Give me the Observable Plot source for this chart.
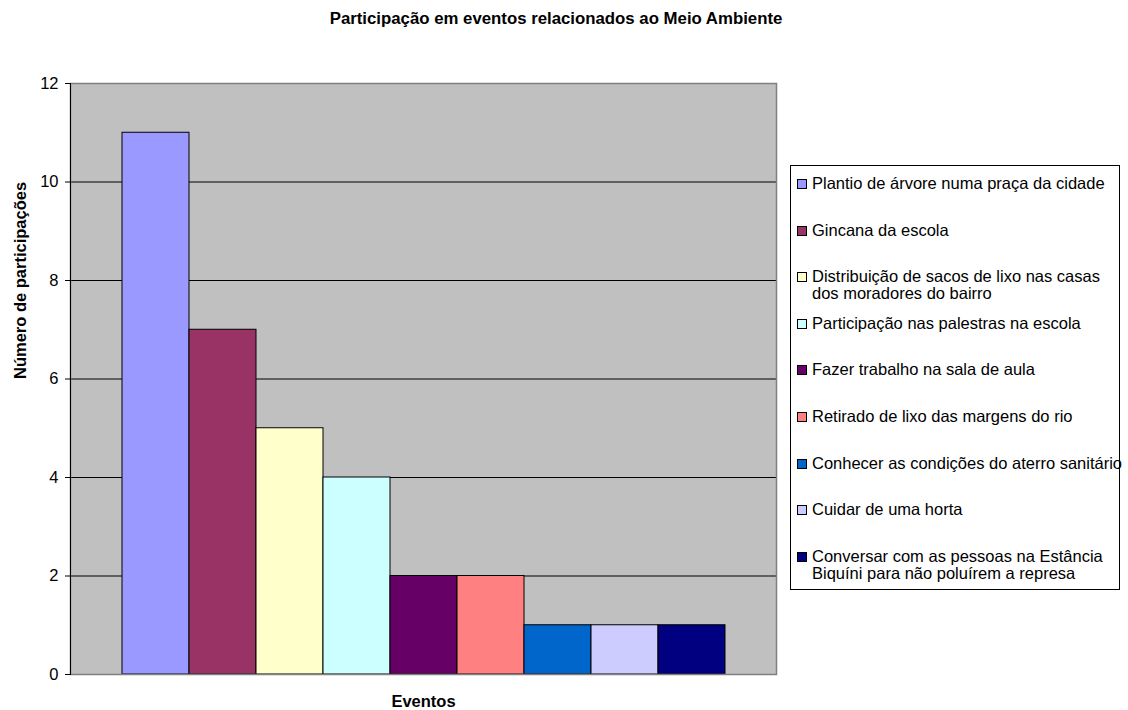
<!DOCTYPE html>
<html>
<head>
<meta charset="utf-8">
<script src="https://cdn.jsdelivr.net/npm/d3@7"></script>
<script src="https://cdn.jsdelivr.net/npm/@observablehq/plot@0.6"></script>
<style>
  body { margin: 0; background: #fff; font-family: "Liberation Sans", Arial, sans-serif; }
  #wrap { position: relative; width: 1128px; height: 710px; }
  #title { position: absolute; left: 0; top: 0; width: 1112px; height: 40px; line-height: 37px; text-align: center; font-weight: bold; font-size: 16.8px; color: #000; }
  #chart { position: absolute; left: 0; top: 40px; }
  #legend { position: absolute; left: 790px; top: 165px; width: 330px; height: 425px; border: 1px solid #000; box-sizing: border-box; background: #fff; }
  .item { position: absolute; left: 6px; font-size: 16.5px; line-height: 17px; color: #000; }
  .sw { position: absolute; left: 0; top: 4px; width: 8px; height: 8px; border: 1px solid #000; }
  .lbl { position: absolute; left: 15px; top: 0; white-space: nowrap; }
</style>
</head>
<body>
<div id="wrap">
  <div id="title"></div>
  <div id="chart"></div>
  <div id="legend"></div>
</div>
<script>
const title = "Participação em eventos relacionados ao Meio Ambiente";
const yLabel = "Número de participações";
const xLabel = "Eventos";
const categories = [
  "Plantio de árvore numa praça da cidade",
  "Gincana da escola",
  "Distribuição de sacos de lixo nas casas dos moradores do bairro",
  "Participação nas palestras na escola",
  "Fazer trabalho na sala de aula",
  "Retirado de lixo das margens do rio",
  "Conhecer as condições do aterro sanitário",
  "Cuidar de uma horta",
  "Conversar com as pessoas na Estância Biquíni para não poluírem a represa"
];
const legendLines = [
  ["Plantio de árvore numa praça da cidade"],
  ["Gincana da escola"],
  ["Distribuição de sacos de lixo nas casas", "dos moradores do bairro"],
  ["Participação nas palestras na escola"],
  ["Fazer trabalho na sala de aula"],
  ["Retirado de lixo das margens do rio"],
  ["Conhecer as condições do aterro sanitário"],
  ["Cuidar de uma horta"],
  ["Conversar com as pessoas na Estância", "Biquíni para não poluírem a represa"]
];
const values = [11, 7, 5, 4, 2, 2, 1, 1, 1];
const colors = ["#9999FF", "#993366", "#FFFFCC", "#CCFFFF", "#660066", "#FF8080", "#0066CC", "#CCCCFF", "#000080"];
const yTicks = [0, 2, 4, 6, 8, 10, 12];

const data = categories.map((c, i) => ({category: c, value: values[i], color: colors[i]}));

document.getElementById("title").textContent = title;

const chart = Plot.plot({
  width: 1128,
  height: 670,
  marginLeft: 70,
  marginRight: 352,
  marginTop: 43,
  marginBottom: 36,
  style: {fontFamily: "Liberation Sans, Arial, sans-serif", fontSize: "16.5px", color: "#000", background: "transparent", overflow: "visible"},
  x: {type: "band", domain: categories, paddingInner: 0, paddingOuter: 0.75, axis: null},
  y: {domain: [0, 12], label: null, axis: null},
  color: {type: "identity"},
  marks: [
    Plot.frame({fill: "#C0C0C0", stroke: null}),
    Plot.ruleY(yTicks.filter(d => d > 0 && d < 12), {stroke: "#000", strokeWidth: 1}),
    Plot.barY(data, {x: "category", y: "value", fill: "color", stroke: "#000", strokeWidth: 1, inset: 0}),
    Plot.frame({stroke: "#808080", strokeWidth: 1.5}),
    Plot.frame({anchor: "left", stroke: "#000", strokeWidth: 1}),
    Plot.axisY({ticks: yTicks, tickSize: 5, tickPadding: 7, label: null, fontSize: 16.5}),
    Plot.text([yLabel], {frameAnchor: "left", dx: -50, rotate: -90, fontWeight: "bold", fontSize: 16.5, lineAnchor: "middle"}),
    Plot.text([xLabel], {frameAnchor: "bottom", dy: 27, fontWeight: "bold", fontSize: 16.5, lineAnchor: "middle"})
  ]
});
document.getElementById("chart").appendChild(chart);

const legend = document.getElementById("legend");
legendLines.forEach((lines, i) => {
  const item = document.createElement("div");
  item.className = "item";
  item.style.top = (9 + i * 46.6) + "px";
  const sw = document.createElement("div");
  sw.className = "sw";
  sw.style.background = colors[i];
  const lbl = document.createElement("div");
  lbl.className = "lbl";
  lbl.innerHTML = lines.map(l => l.replace(/&/g, "&amp;").replace(/</g, "&lt;")).join("<br>");
  item.appendChild(sw);
  item.appendChild(lbl);
  legend.appendChild(item);
});
</script>
</body>
</html>
